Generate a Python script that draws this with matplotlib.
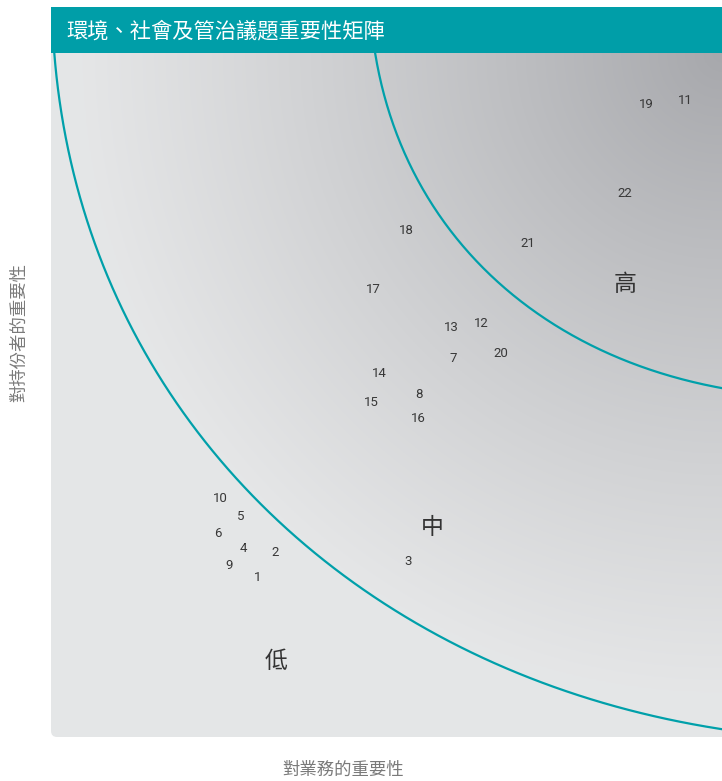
import matplotlib.pyplot as plt
import numpy as np
from matplotlib.patches import FancyBboxPatch, Rectangle

plt.rcParams['font.family'] = ['Noto Sans CJK TC', 'DejaVu Sans']

# issues: importance to business (x) and to stakeholders (y), 0-10 scale
issue_ids = ['19', '11', '22', '18', '21', '17', '13', '12', '7', '20', '14',
             '8', '15', '16', '10', '5', '6', '4', '2', '9', '1', '3']
business = [8.87, 9.45, 8.55, 5.29, 7.11, 4.80, 5.96, 6.42, 5.99, 6.71, 4.89,
            5.48, 4.78, 5.48, 2.53, 2.83, 2.49, 2.86, 3.34, 2.65, 3.08, 5.32]
stakeholder = [9.25, 9.30, 7.94, 7.40, 7.21, 6.54, 5.98, 6.04, 5.54, 5.61, 5.32,
               5.00, 4.89, 4.65, 3.49, 3.22, 2.97, 2.76, 2.70, 2.51, 2.33, 2.56]

zone_names = ['高', '中', '低']
zone_x = [8.55, 5.68, 3.35]
zone_y = [6.61, 3.07, 1.10]

# zone boundaries: superellipse arcs (centre x, centre y, semi-axis x, semi-axis y, exponent)
outer_edge = (12.44, 11.01, 12.43, 11.07, 2.1)
inner_edge = (11.82, 11.27, 7.085, 6.316, 2.2)

title = '環境、社會及管治議題重要性矩陣'
xlabel = '對業務的重要性'
ylabel = '對持份者的重要性'

teal = '#009ea8'

fig = plt.figure(figsize=(7.22, 7.81), dpi=100)
W, H = 722, 781
ax = fig.add_axes([51 / W, (H - 737) / H, 671 / W, 684 / H])
ax.set_xlim(0, 10)
ax.set_ylim(0, 10)
ax.axis('off')

# background: radial gradient from top-right corner
gx, gy = np.meshgrid(np.linspace(0, 10, 400), np.linspace(0, 10, 400))
dist = np.hypot((10 - gx) * 67.1, (10 - gy) * 68.4)
t = np.clip(dist / 640, 0, 1)
t = t * (1.15 - 0.15 * t)
dark = np.array([0.655, 0.659, 0.675])
light = np.array([0.898, 0.902, 0.906])
img = dark + (light - dark) * t[..., None]
im = ax.imshow(img, extent=(0, 10, 0, 10), origin='lower', aspect='auto', zorder=0)
clip = FancyBboxPatch((0, 0), 1.2, 1.2, boxstyle='round,pad=0,rounding_size=0.009',
                      transform=ax.transAxes, facecolor='none', edgecolor='none')
ax.add_patch(clip)
im.set_clip_path(clip)


def boundary(cx, cy, a, b, n):
    s = np.linspace(0, np.pi / 2, 400)
    return cx - a * np.cos(s) ** (2 / n), cy - b * np.sin(s) ** (2 / n)


for edge in (outer_edge, inner_edge):
    bx, by = boundary(*edge)
    ax.plot(bx, by, color='#00a0aa', lw=1.6, zorder=2, solid_capstyle='butt')

for lab, x, y in zip(issue_ids, business, stakeholder):
    ax.text(x, y, lab, ha='center', va='center', fontsize=9.5,
            family='Roboto', color='#383838', zorder=3)

for lab, x, y in zip(zone_names, zone_x, zone_y):
    ax.text(x, y, lab, ha='center', va='center', fontsize=16.5,
            color='#333333', zorder=3)

# title bar
fig.patches.append(Rectangle((51 / W, (H - 53) / H), 671 / W, 46 / H,
                             transform=fig.transFigure, facecolor=teal,
                             edgecolor='none'))
fig.text(66 / W, (H - 31) / H, title, ha='left', va='center', fontsize=15.3,
         color='white')

fig.text(343 / W, (H - 770) / H, xlabel, ha='center', va='center',
         fontsize=12.5, color='#7a7a7a')
fig.text(19 / W, (H - 332) / H, ylabel, ha='center', va='center',
         fontsize=12.5, color='#7a7a7a', rotation=90)

fig.savefig('out.png', dpi=100)
